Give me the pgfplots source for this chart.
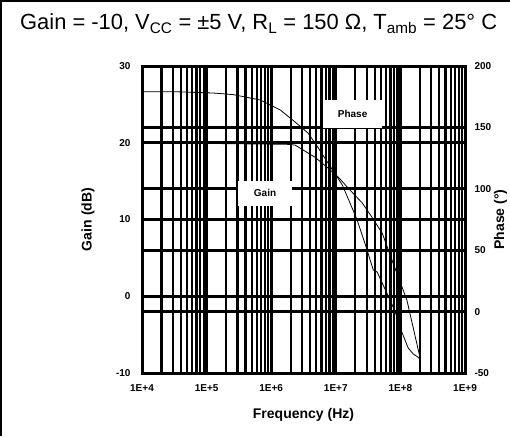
\documentclass[border=0pt]{standalone}
\usepackage{pgfplots}
\pgfplotsset{compat=1.18}
\usepackage{fontspec}
\setmainfont{Liberation Sans}
\begin{document}
\begin{tikzpicture}[x=1pt,y=1pt]
\path[use as bounding box] (-142,-63) rectangle (368,373);
\begin{axis}[
  at={(0,0)}, anchor=south west,
  scale only axis, width=323pt, height=307pt,
  xmode=log, xmin=1e4, xmax=1e9,
  ymin=-10, ymax=30,
  xtick={1e4,1e5,1e6,1e7,1e8,1e9},
  xticklabels={1E+4,1E+5,1E+6,1E+7,1E+8,1E+9},
  minor xtick={2e4,3e4,4e4,5e4,6e4,7e4,8e4,9e4,
               2e5,3e5,4e5,5e5,6e5,7e5,8e5,9e5,
               2e6,3e6,4e6,5e6,6e6,7e6,8e6,9e6,
               2e7,3e7,4e7,5e7,6e7,7e7,8e7,9e7,
               2e8,3e8,4e8,5e8,6e8,7e8,8e8,9e8},
  ytick={-10,0,10,20,30},
  yticklabels={-10,0,10,20,30},
  extra y ticks={-2,6,14,22}, extra y tick labels={},
  extra y tick style={grid=major},
  xmajorgrids, xminorgrids, ymajorgrids,
  major grid style={black, line width=2.8pt},
  minor grid style={black, line width=2.2pt},
  axis line style={black, line width=3pt},
  major tick length=0pt, minor tick length=0pt,
  tick label style={font=\bfseries\fontsize{10}{12}\selectfont},
  xticklabel style={yshift=-8pt},
  yticklabel style={xshift=-8pt},
  xlabel={Frequency (Hz)}, ylabel={Gain (dB)},
  label style={font=\bfseries\fontsize{14}{16}\selectfont},
  xlabel style={at={(axis description cs:0.5,-0.137)}, anchor=center},
  ylabel style={at={(axis description cs:-0.167,0.5)}, anchor=center},
  clip=false,
]
\addplot[black, line width=0.8pt] coordinates {
(1e4,20) (1.74e6,19.8) (2.34e6,19.7) (4.79e6,18.1) (7.59e6,16.7)
(1.10e7,15.5) (1.55e7,14.1) (2.57e7,12.15) (3.63e7,10.3) (5.25e7,8.2)
(7.41e7,4.7) (1.26e8,-0.5) (2.0e8,-7.9)
};
\end{axis}
\begin{axis}[
  at={(0,0)}, anchor=south west,
  scale only axis, width=323pt, height=307pt,
  xmode=log, xmin=1e4, xmax=1e9,
  ymin=-50, ymax=200,
  axis y line*=right, axis x line=none,
  ytick={-50,0,50,100,150,200},
  yticklabels={-50,0,50,100,150,200},
  axis line style={black, line width=3pt},
  major tick length=0pt, minor tick length=0pt,
  tick label style={font=\bfseries\fontsize{10}{12}\selectfont},
  yticklabel style={xshift=6pt},
  ylabel={Phase (°)},
  label style={font=\bfseries\fontsize{14}{16}\selectfont},
  ylabel style={at={(axis description cs:1.11,0.5)}, anchor=center},
  clip=false,
]
\addplot[black, line width=0.8pt] coordinates {
(1e4,179) (3.47e4,179) (1.26e5,178) (2.57e5,176.7) (4.68e5,174) (6.76e5,172.3)
(1.38e6,164.2) (2.34e6,154.4) (3.72e6,145.4) (5.25e6,134) (7.59e6,121)
(1.05e7,109.6) (1.26e7,103.1) (1.66e7,88.4) (2.14e7,74.6) (2.88e7,54.2)
(3.80e7,33.9) (4.37e7,32.2) (6.92e7,9.4) (8.32e7,-0.3) (1.05e8,-16.6)
(1.32e8,-29.6) (1.58e8,-34.5) (1.86e8,-37) (2.0e8,-38.6)
};
\node[fill=white, inner sep=0pt, minimum width=54pt, minimum height=25pt,
      font=\bfseries\fontsize{10}{12}\selectfont] at (rel axis cs:0.381,0.585) {Gain};
\node[fill=white, inner sep=0pt, minimum width=59pt, minimum height=28pt,
      font=\bfseries\fontsize{10}{12}\selectfont] at (rel axis cs:0.652,0.844) {Phase};
\end{axis}
\node[anchor=base west, inner sep=0pt, font=\fontsize{21.9}{25}\selectfont]
  at (-122,343) {Gain = -10, V\textsubscript{CC} = ±5 V, R\textsubscript{L} = 150 Ω, T\textsubscript{amb} = 25° C};
\draw[line width=2.5pt] (-140.75,-63) -- (-140.75,371.75) -- (368,371.75);
\end{tikzpicture}
\end{document}
